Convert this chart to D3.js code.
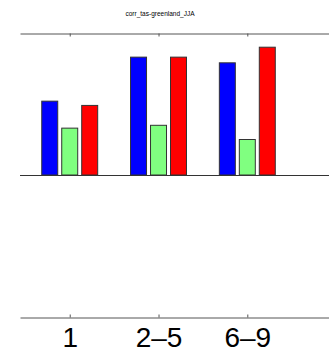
<!DOCTYPE html>
<html>
<head>
<meta charset="utf-8">
<script src="https://cdn.jsdelivr.net/npm/d3@7"></script>
<style>
body { margin: 0; background: #fff; }
svg { display: block; }
</style>
</head>
<body>
<svg id="chart" width="329" height="348"></svg>
<script>
// groups along the x axis
var groups = ["1", "2\u20135", "6\u20139"]
var groupPos = [1, 2, 3]
// three series per group
var blueVals = [0.52, 0.83, 0.79]
var greenVals = [0.33, 0.35, 0.25]
var redVals = [0.49, 0.83, 0.90]
var seriesColors = ["#0000ff", "#80ff80", "#ff0000"]

var svg = d3.select("#chart")

var x = d3.scaleLinear().domain([0.44, 3.92]).range([20, 329])
var y = d3.scaleLinear().domain([-1, 1]).range([317, 33])

var series = [blueVals, greenVals, redVals]
var offsets = [-0.225, 0, 0.225]
var barW = 0.18

// title
svg.append("text")
  .attr("x", 160)
  .attr("y", 16)
  .attr("text-anchor", "middle")
  .style("font-family", "Liberation Sans, Arial, sans-serif")
  .style("font-size", "6.5px")
  .text("corr_tas-greenland_JJA")

// bars
series.forEach(function (vals, s) {
  svg.append("g").selectAll("rect")
    .data(vals)
    .enter().append("rect")
    .attr("x", function (d, i) { return x(groupPos[i] + offsets[s] - barW / 2) })
    .attr("width", x(barW) - x(0))
    .attr("y", function (d) { return y(Math.max(d, 0)) })
    .attr("height", function (d) { return Math.abs(y(d) - y(0)) })
    .attr("fill", seriesColors[s])
    .attr("stroke", "#333")
    .attr("stroke-width", 1)
})

// zero line
svg.append("line")
  .attr("x1", x.range()[0]).attr("x2", x.range()[1])
  .attr("y1", y(0) + 0.5).attr("y2", y(0) + 0.5)
  .attr("stroke", "#333")

// top axis, ticks inward
var topAxis = d3.axisBottom(x).tickValues(groupPos).tickSize(3).tickFormat("").tickSizeOuter(0)
svg.append("g")
  .attr("transform", "translate(0," + (y(1) + 0.5) + ")")
  .call(topAxis)
  .call(function (g) { g.selectAll("line,path").attr("stroke", "#555") })

// bottom axis, ticks inward, big labels
var bottomAxis = d3.axisTop(x).tickValues(groupPos).tickSize(3).tickSizeOuter(0)
  .tickFormat(function (d, i) { return groups[i] })
var gb = svg.append("g")
  .attr("transform", "translate(0," + (y(-1) + 0.5) + ")")
  .call(bottomAxis)
gb.selectAll("line,path").attr("stroke", "#555")
gb.selectAll("text")
  .attr("y", 29)
  .attr("dy", 0)
  .attr("fill", "#000")
  .style("font-family", "Liberation Sans, Arial, sans-serif")
  .style("font-size", "28px")
</script>
</body>
</html>
